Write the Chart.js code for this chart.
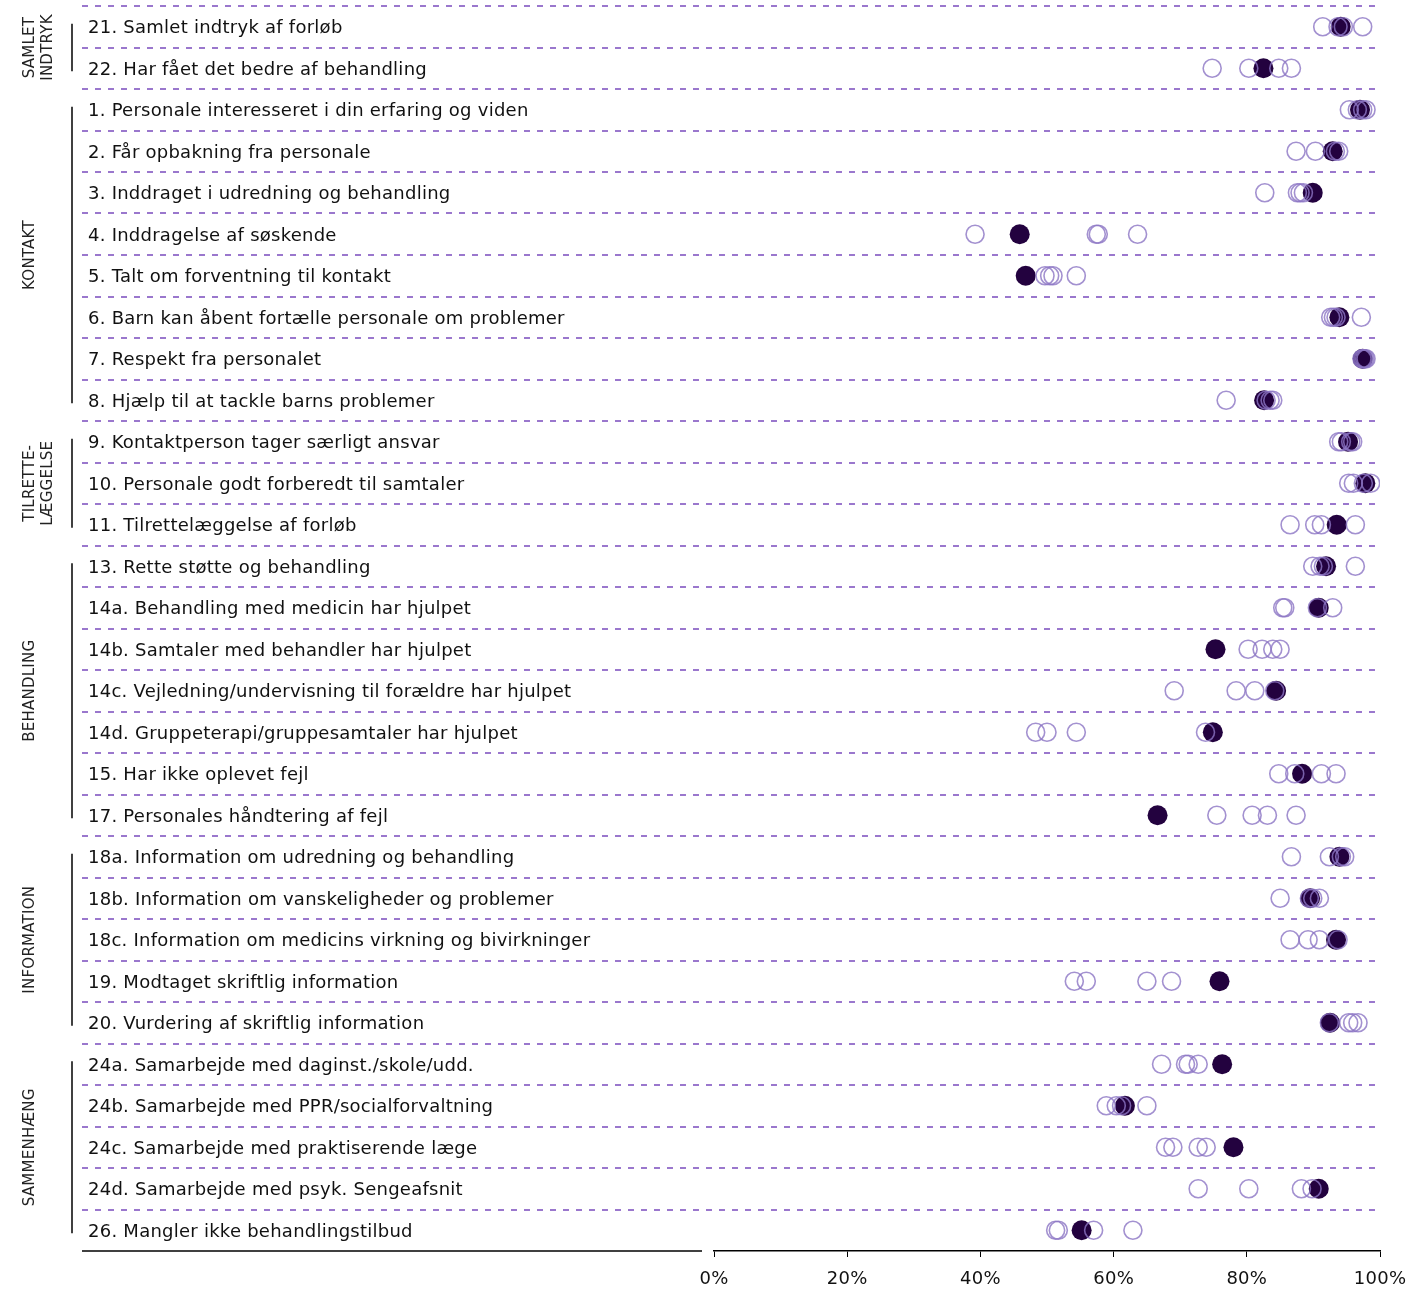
<!DOCTYPE html>
<html>
<head>
<meta charset="utf-8">
<script src="https://cdn.jsdelivr.net/npm/chart.js@4.4.0/dist/chart.umd.min.js"></script>
<style>
    html, body { margin: 0; padding: 0; background: #fff; }
    #wrap { width: 1424px; height: 1290px; }
</style>
</head>
<body>
<div id="wrap"><canvas id="dotChart" width="1424" height="1290"></canvas></div>
<script>
// Row labels, top to bottom
const rowLabels = [
    "21. Samlet indtryk af forløb",
    "22. Har fået det bedre af behandling",
    "1. Personale interesseret i din erfaring og viden",
    "2. Får opbakning fra personale",
    "3. Inddraget i udredning og behandling",
    "4. Inddragelse af søskende",
    "5. Talt om forventning til kontakt",
    "6. Barn kan åbent fortælle personale om problemer",
    "7. Respekt fra personalet",
    "8. Hjælp til at tackle barns problemer",
    "9. Kontaktperson tager særligt ansvar",
    "10. Personale godt forberedt til samtaler",
    "11. Tilrettelæggelse af forløb",
    "13. Rette støtte og behandling",
    "14a. Behandling med medicin har hjulpet",
    "14b. Samtaler med behandler har hjulpet",
    "14c. Vejledning/undervisning til forældre har hjulpet",
    "14d. Gruppeterapi/gruppesamtaler har hjulpet",
    "15. Har ikke oplevet fejl",
    "17. Personales håndtering af fejl",
    "18a. Information om udredning og behandling",
    "18b. Information om vanskeligheder og problemer",
    "18c. Information om medicins virkning og bivirkninger",
    "19. Modtaget skriftlig information",
    "20. Vurdering af skriftlig information",
    "24a. Samarbejde med daginst./skole/udd.",
    "24b. Samarbejde med PPR/socialforvaltning",
    "24c. Samarbejde med praktiserende læge",
    "24d. Samarbejde med psyk. Sengeafsnit",
    "26. Mangler ikke behandlingstilbud"
];

// Groups (name lines, number of rows)
const groupNames = [["SAMLET", "INDTRYK"], ["KONTAKT"], ["TILRETTE-", "LÆGGELSE"], ["BEHANDLING"], ["INFORMATION"], ["SAMMENHÆNG"]];
const groupSizes = [2, 8, 3, 7, 5, 5];

// Filled dot (own unit), percent
const ownValues = [94.1, 82.5, 97.0, 92.9, 89.9, 45.9, 46.8, 93.9, 97.4, 82.6,
    95.2, 97.8, 93.5, 91.9, 90.8, 75.3, 84.4, 74.9, 88.3, 66.6,
    93.9, 89.5, 93.4, 75.9, 92.5, 76.3, 61.7, 78.0, 90.8, 55.2];

// Open circles (comparison units), percent
const compareA = [91.4, 74.8, 95.4, 87.4, 82.7, 39.2, 49.7, 92.6, 97.3, 76.9,
    93.8, 95.3, 86.5, 89.9, 85.4, 80.2, 69.1, 48.3, 84.8, 75.5,
    86.7, 85.0, 86.5, 54.1, 92.4, 67.2, 58.9, 67.8, 72.7, 51.3];
const compareB = [93.7, 80.3, 96.6, 90.3, 87.6, 57.4, 50.4, 93.0, 97.5, 82.9,
    94.2, 96.0, 90.2, 91.0, 85.7, 82.3, 78.4, 50.0, 87.2, 80.8,
    92.4, 89.4, 89.2, 55.9, 95.3, 70.8, 60.4, 68.9, 80.3, 51.7];
const compareC = [94.5, 84.8, 97.4, 93.3, 88.0, 57.7, 50.9, 93.4, 97.7, 83.5,
    95.6, 97.5, 91.2, 91.5, 90.6, 83.9, 81.2, 54.4, 91.2, 83.1,
    94.2, 89.9, 90.9, 65.0, 95.9, 71.2, 61.2, 72.7, 88.2, 57.0];
const compareD = [97.4, 86.7, 97.9, 93.8, 88.5, 63.6, 54.4, 97.2, 97.9, 83.9,
    95.9, 98.6, 96.3, 96.3, 92.9, 85.0, 84.2, 73.8, 93.4, 87.4,
    94.7, 90.9, 93.7, 68.7, 96.7, 72.7, 65.0, 73.9, 89.8, 62.9];

const xTicks = [0, 20, 40, 60, 80, 100];

const toPoints = values => values.map((v, i) => ({ x: v, y: rowLabels[i] }));

const openStyle = {
    pointRadius: 9,
    pointHoverRadius: 9,
    pointBorderWidth: 1.6,
    pointBackgroundColor: 'rgba(255,255,255,0)',
    pointBorderColor: 'rgba(140,118,196,0.8)',
    order: 0
};

// Dashed row separators, group brackets and rotated group names
const framePlugin = {
    id: 'frame',
    beforeDraw(chart) {
        chart.ctx.letterSpacing = '0.25px';
    },
    beforeDatasetsDraw(chart) {
        const ctx = chart.ctx;
        const yScale = chart.scales.y;
        const area = chart.chartArea;
        const step = yScale.getPixelForValue(1) - yScale.getPixelForValue(0);

        ctx.save();
        ctx.strokeStyle = '#7a4bbd';
        ctx.lineWidth = 1.6;
        ctx.setLineDash([6, 7]);
        rowLabels.forEach((label, i) => {
            const py = Math.round(yScale.getPixelForValue(i) - step / 2);
            ctx.beginPath();
            ctx.moveTo(82, py);
            ctx.lineTo(area.right - 5, py);
            ctx.stroke();
        });
        ctx.setLineDash([]);

        // bottom line under the label column
        ctx.strokeStyle = '#000';
        ctx.lineWidth = 1.5;
        ctx.beginPath();
        ctx.moveTo(82, area.bottom);
        ctx.lineTo(702, area.bottom);
        ctx.stroke();

        let start = 0;
        groupSizes.forEach((size, g) => {
            const top = yScale.getPixelForValue(start) - 3;
            const bottom = yScale.getPixelForValue(start + size - 1) + 3;
            ctx.strokeStyle = '#000';
            ctx.lineWidth = 1.5;
            ctx.beginPath();
            ctx.moveTo(72, top);
            ctx.lineTo(72, bottom);
            ctx.stroke();

            const mid = (top + bottom) / 2;
            ctx.fillStyle = '#222';
            ctx.font = '15px "DejaVu Sans"';
            ctx.textAlign = 'center';
            ctx.textBaseline = 'middle';
            groupNames[g].forEach((line, k) => {
                ctx.save();
                ctx.translate(30 + k * 18, mid);
                ctx.rotate(-Math.PI / 2);
                ctx.fillText(line, 0, 0);
                ctx.restore();
            });
            start += size;
        });
        ctx.restore();
    }
};

Chart.defaults.font.family = '"DejaVu Sans", Verdana, sans-serif';
Chart.defaults.color = '#111';

new Chart(document.getElementById('dotChart'), {
    type: 'scatter',
    data: {
        datasets: [
            { label: 'A', data: toPoints(compareA), ...openStyle },
            { label: 'B', data: toPoints(compareB), ...openStyle },
            { label: 'C', data: toPoints(compareC), ...openStyle },
            { label: 'D', data: toPoints(compareD), ...openStyle },
            {
                label: 'Egen enhed',
                data: toPoints(ownValues),
                pointRadius: 10,
                pointHoverRadius: 10,
                pointBorderWidth: 0,
                pointBackgroundColor: '#23023f',
                pointBorderColor: '#23023f',
                order: 1
            }
        ]
    },
    options: {
        responsive: false,
        animation: false,
        devicePixelRatio: 1,
        layout: { autoPadding: false, padding: { left: 88, right: 44, top: 6, bottom: 0 } },
        plugins: {
            legend: { display: false },
            tooltip: { enabled: false }
        },
        scales: {
            x: {
                type: 'linear',
                min: 0,
                max: 100,
                afterBuildTicks: scale => { scale.ticks = xTicks.map(v => ({ value: v })); },
                afterFit: scale => { scale.height = 39; scale.paddingLeft = 0; scale.paddingRight = 0; },
                ticks: {
                    callback: v => v + '%',
                    font: { size: 18 },
                    color: '#111',
                    padding: 12,
                    maxRotation: 0
                },
                grid: { drawOnChartArea: false, drawTicks: true, tickLength: 6, color: '#000', lineWidth: 1 },
                border: { display: true, color: '#000', width: 1.5 }
            },
            y: {
                type: 'category',
                labels: rowLabels,
                offset: true,
                afterFit: scale => { scale.width = 714 - 88; scale.paddingTop = 0; scale.paddingBottom = 0; },
                ticks: {
                    crossAlign: 'far',
                    font: { size: 18 },
                    color: '#111',
                    labelOffset: 2,
                    autoSkip: false
                },
                grid: { display: false },
                border: { display: false }
            }
        }
    },
    plugins: [framePlugin]
});
</script>
</body>
</html>
